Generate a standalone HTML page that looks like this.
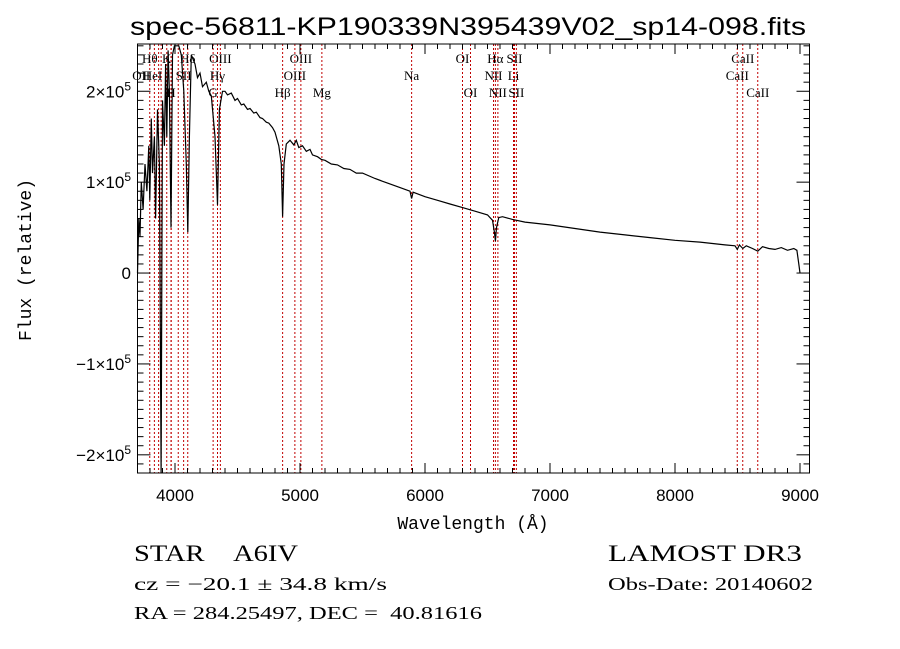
<!DOCTYPE html>
<html><head><meta charset="utf-8"><style>
html,body{margin:0;padding:0;background:#fff;}
svg{display:block;}
text{fill:#000;}
.serif{font-family:"Liberation Serif",serif;}
.sans{font-family:"Liberation Sans",sans-serif;}
.mono{font-family:"Liberation Mono",monospace;}
</style></head><body>
<svg id="chart" width="900" height="649" viewBox="0 0 900 649" xmlns="http://www.w3.org/2000/svg">
<text x="468" y="35" text-anchor="middle" class="sans" font-size="25" textLength="676" lengthAdjust="spacingAndGlyphs">spec-56811-KP190339N395439V02_sp14-098.fits</text>
<g id="lines"></g>
<g id="labels"></g>
<path id="spec" fill="none" stroke="#000" stroke-width="1.2"/>
<rect x="137.5" y="44" width="672" height="429" fill="none" stroke="#000" stroke-width="1"/>
<g id="ticks" stroke="#000" stroke-width="1"></g>
<g id="ticklabels"></g>
<text x="473" y="529" text-anchor="middle" class="mono" font-size="18">Wavelength (Å)</text>
<text transform="translate(31,260) rotate(-90)" text-anchor="middle" class="mono" font-size="18">Flux (relative)</text>
<text x="134" y="561" class="serif" font-size="23" textLength="164" lengthAdjust="spacingAndGlyphs">STAR&#160;&#160;&#160;&#160;A6IV</text>
<text x="134" y="590" class="serif" font-size="18" textLength="253" lengthAdjust="spacingAndGlyphs">cz = −20.1 ± 34.8 km/s</text>
<text x="134" y="619" class="serif" font-size="18" textLength="348" lengthAdjust="spacingAndGlyphs">RA = 284.25497, DEC = &#160;40.81616</text>
<text x="608" y="561" class="serif" font-size="23" textLength="194" lengthAdjust="spacingAndGlyphs">LAMOST DR3</text>
<text x="608" y="590" class="serif" font-size="18" textLength="205" lengthAdjust="spacingAndGlyphs">Obs-Date: 20140602</text>
</svg>
<script>
const wavelengths=[3700,3710,3720,3730,3745,3760,3775,3790,3798,3810,3820,3835,3845,3860,3875,3889,3900,3915,3925,3934,3945,3955,3968,3980,3995,4010,4030,4050,4070,4090,4102,4115,4130,4160,4180,4200,4220,4250,4270,4290,4320,4340,4355,4380,4400,4420,4450,4480,4500,4530,4550,4580,4600,4630,4650,4680,4700,4730,4750,4780,4800,4830,4850,4861,4872,4890,4920,4950,4970,4990,5020,5050,5080,5100,5140,5170,5200,5250,5300,5350,5400,5450,5500,5600,5700,5800,5880,5893,5905,6000,6100,6200,6300,6400,6500,6540,6555,6563,6572,6590,6620,6700,6800,7000,7200,7400,7600,7800,8000,8200,8400,8480,8498,8515,8542,8570,8620,8662,8700,8750,8800,8850,8900,8950,8975,8990,9000];
const fluxK=[0,60,40,100,70,120,90,140,80,170,110,150,60,180,120,-220,190,140,230,150,245,200,50,240,250,250,250,240,200,120,45,150,240,230,215,220,205,210,200,195,150,75,180,200,200,196,198,190,192,185,186,180,181,176,177,171,170,166,165,160,155,140,120,62,120,142,146,141,146,138,140,134,136,130,128,125,124,120,119,115,114,110,110,104,99,94,90,82,89,84,80,76,72,68,64,58,45,35,50,61,62,59,56,53,49,45,42,39,36,34,31,30,26,31,27,30,27,24,29,27,26,28,25,27,25,10,0];
const lineWl=[3798,3835,3869,3889,3934,3968,3970,4026,4069,4102,4305,4340,4363,4861,4959,5007,5175,5893,6300,6364,6548,6563,6583,6708,6716,6731,8498,8542,8662];
const labelText=["Hθ","OII","HeI","K","H","SII","Hδ","G","Hγ","OIII","Hβ","OIII","OIII","Mg","Na","OI","OI","NII","Hα","NII","Li","SII","SII","CaII","CaII","CaII"];
const labelWl=[3798,3730,3820,3934,3968,4069,4102,4305,4340,4363,4861,4959,5007,5175,5893,6300,6364,6548,6563,6583,6708,6716,6731,8498,8542,8662];
const labelRow=[1,2,2,1,3,2,1,3,2,1,3,2,1,3,2,1,3,2,1,3,2,1,3,2,1,3];
const xTicks=[4000,5000,6000,7000,8000,9000];
const yTicks=[-2,-1,0,1,2];
const NS="http://www.w3.org/2000/svg";
const X0=137.5,X1=809.5,Y0=44,Y1=473,WMIN=3700,WMAX=9076,FMIN=-220,FMAX=252;
const xs=w=>X0+(w-WMIN)/(WMAX-WMIN)*(X1-X0);
const ys=f=>Y1-(f-FMIN)/(FMAX-FMIN)*(Y1-Y0);
function mk(tag,attrs,parent){const e=document.createElementNS(NS,tag);for(const k in attrs)e.setAttribute(k,attrs[k]);parent.appendChild(e);return e;}
let d="";
wavelengths.forEach((w,i)=>{const y=Math.max(Y0,Math.min(Y1,ys(fluxK[i])));d+=(i?"L":"M")+xs(w).toFixed(1)+" "+y.toFixed(1);});
document.getElementById('spec').setAttribute('d',d);
const lg=document.getElementById('lines');
lineWl.forEach(w=>{const l=mk('line',{x1:xs(w),x2:xs(w),y1:Y0,y2:Y1,stroke:'#c00000','stroke-width':1,'stroke-dasharray':'2,2'},lg);

});
const lb=document.getElementById('labels');
labelText.forEach((t,i)=>{const e=mk('text',{x:xs(labelWl[i]),y:[0,63,80,97][labelRow[i]],'text-anchor':'middle','font-size':13,class:'serif'},lb);e.textContent=t;

});
const tg=document.getElementById('ticks');
for(let w=3700;w<=WMAX;w+=100){const L=(w%1000===0)?10:5;mk('line',{x1:xs(w),x2:xs(w),y1:Y1,y2:Y1-L},tg);mk('line',{x1:xs(w),x2:xs(w),y1:Y0,y2:Y0+L},tg);}
for(let f=-210;f<=250;f+=10){const L=(f%100===0)?13:6;mk('line',{x1:X0,x2:X0+L,y1:ys(f),y2:ys(f)},tg);mk('line',{x1:X1,x2:X1-L,y1:ys(f),y2:ys(f)},tg);}
const tl=document.getElementById('ticklabels');
xTicks.forEach(w=>{const e=mk('text',{x:xs(w),y:501,'text-anchor':'middle','font-size':17,class:'sans'},tl);e.textContent=w;

});
yTicks.forEach(v=>{const e=mk('text',{x:131,y:ys(v*100)+6,'text-anchor':'end','font-size':17,class:'sans'},tl);


if(v===0){e.textContent='0';}else{e.textContent=(v<0?'−':'')+Math.abs(v)+'×10';const s=mk('tspan',{dy:-7,'font-size':12},e);s.textContent='5';}});
</script>
</body></html>
